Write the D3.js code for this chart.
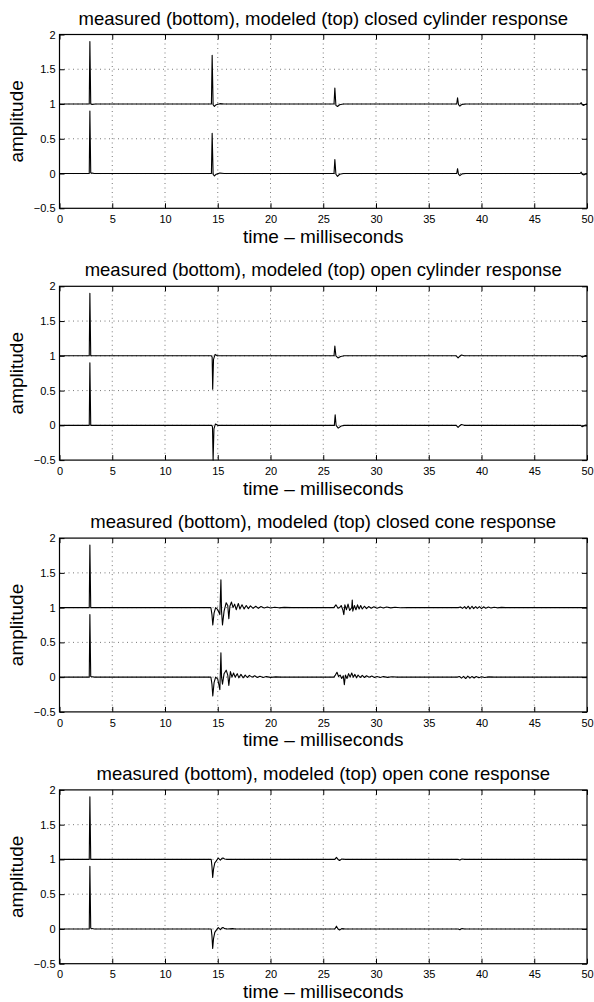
<!DOCTYPE html>
<html>
<head>
<meta charset="utf-8">
<script src="https://cdn.jsdelivr.net/npm/d3@7"></script>
<style>
  body { margin: 0; background: #fff; }
  svg { display: block; font-family: "Liberation Sans", Arial, Helvetica, sans-serif; }
</style>
</head>
<body>
<div id="chart"></div>
<script>
// axis ticks and panel titles
var timeTicks = [0, 5, 10, 15, 20, 25, 30, 35, 40, 45, 50];
var ampTicks = [-0.5, 0, 0.5, 1, 1.5, 2];
var titles = [
    "measured (bottom), modeled (top) closed cylinder response",
    "measured (bottom), modeled (top) open cylinder response",
    "measured (bottom), modeled (top) closed cone response",
    "measured (bottom), modeled (top) open cone response"
];

// traces: [time ms, amplitude]
var closedCylModel = [[0,1],[2.82,1],[2.88,1.9],[2.96,1],[3.1,0.995],[3.4,1],[14.4,1],[14.47,1.7],[14.56,0.99],[14.68,0.965],[14.85,0.99],[15.2,1.005],[15.6,1],
    [26.02,1],[26.1,1.23],[26.2,0.98],[26.35,0.965],[26.55,0.99],[26.9,1],[37.65,1],[37.73,1.09],[37.82,0.99],[37.95,0.97],[38.15,0.995],[38.5,1],
    [49.35,1],[49.45,1.02],[49.55,0.99],[49.7,0.98],[49.85,0.995],[50,1]];
var closedCylMeas = [[0,0],[2.82,0],[2.88,0.9],[2.96,0.01],[3.3,0],[14.4,0],[14.47,0.58],[14.56,-0.01],[14.68,-0.035],[14.85,-0.01],[15.2,0.008],[15.6,0],
    [26.02,0],[26.1,0.2],[26.2,-0.01],[26.35,-0.04],[26.55,-0.01],[26.9,0],[37.65,0],[37.73,0.07],[37.82,-0.01],[37.95,-0.03],[38.15,-0.005],[38.5,0],
    [49.35,0],[49.45,0.02],[49.55,-0.01],[49.7,-0.02],[49.85,-0.005],[50,0]];

var openCylModel = [[0,1],[2.82,1],[2.88,1.9],[2.96,1],[3.3,1],[14.4,1],[14.47,0.98],[14.52,0.52],[14.6,0.95],[14.75,1.02],[14.95,1],
    [26.02,1],[26.1,1.14],[26.2,1],[26.4,0.97],[26.65,0.99],[27,1],[37.6,1],[37.78,0.97],[37.9,0.99],[38.1,1.012],[38.35,1],
    [49.4,1],[49.55,0.98],[49.7,0.995],[49.85,1.005],[50,1]];
var openCylMeas = [[0,0],[2.82,0],[2.88,0.9],[2.96,0],[3.3,0],[14.42,0],[14.5,-0.02],[14.56,-0.5],[14.64,-0.05],[14.78,0.02],[15,0],
    [26.05,0],[26.13,0.15],[26.22,0],[26.42,-0.04],[26.7,-0.01],[27,0],[37.6,0],[37.78,-0.03],[37.9,-0.01],[38.1,0.012],[38.35,0],
    [49.4,0],[49.55,-0.02],[49.7,-0.005],[49.85,0.005],[50,0]];

var closedConeModel = [[0,1],[2.82,1],[2.88,1.9],[2.96,1],[3.3,1],[14.35,1],[14.45,0.9],[14.53,0.75],[14.65,0.92],[14.8,1],[15,0.97],[15.2,0.9],
    [15.3,1.4],[15.36,0.95],[15.45,0.75],[15.6,0.95],[15.8,1.07],[15.95,1.03],[16.05,0.84],[16.15,1.02],[16.3,1.08],[16.45,1],[16.6,1.05],
    [16.75,0.97],[16.95,1.06],[17.1,0.98],[17.3,1.04],[17.5,0.98],[17.7,1.03],[17.9,0.985],[18.1,1.025],[18.35,0.99],[18.6,1.02],[18.85,0.99],
    [19.1,1.015],[19.4,0.995],[19.7,1.01],[20,0.995],[20.4,1.006],[20.8,0.997],[21.3,1.003],[22,1],
    [26,1],[26.2,1.04],[26.4,0.99],[26.55,1],[26.7,1.03],[26.85,0.97],[26.95,0.9],[27.05,1.04],[27.2,0.97],[27.35,1.05],[27.5,0.96],[27.7,1],
    [27.75,1.11],[27.8,0.95],[27.95,1.03],[28.1,0.97],[28.25,1.04],[28.4,0.98],[28.55,1.03],[28.7,0.98],[28.9,1.02],[29.1,0.985],[29.3,1.015],
    [29.55,0.99],[29.8,1.012],[30.1,0.992],[30.4,1.01],[30.7,0.995],[31,1.008],[31.4,0.996],[31.8,1.005],[32.3,0.998],[33,1],
    [37.8,1],[38,1.01],[38.2,0.99],[38.4,1.015],[38.55,0.985],[38.75,1.02],[38.9,0.98],[39.1,1.02],[39.25,0.985],[39.45,1.015],[39.6,0.99],
    [39.8,1.015],[40,0.985],[40.2,1.012],[40.4,0.992],[40.65,1.008],[40.9,0.994],[41.2,1.006],[41.5,0.997],[41.9,1.003],[42.3,1],[50,1]];
var closedConeMeas = [[0,0],[2.82,0],[2.88,0.9],[2.96,0.01],[3.3,0],[14.35,0],[14.45,-0.1],[14.53,-0.27],[14.65,-0.08],[14.8,0],[15,-0.03],
    [15.2,-0.18],[15.3,0.35],[15.36,0],[15.45,-0.1],[15.6,0.05],[15.8,0.1],[15.95,0.03],[16.05,-0.12],[16.2,0.08],[16.35,0],[16.5,0.06],
    [16.65,0],[16.85,0.05],[17,-0.01],[17.2,0.04],[17.4,-0.01],[17.6,0.03],[17.8,-0.005],[18,0.025],[18.25,0],[18.5,0.02],[18.75,-0.005],
    [19,0.012],[19.3,-0.005],[19.6,0.008],[20,-0.003],[20.5,0.004],[21,0],
    [26,0],[26.15,0.03],[26.3,0.07],[26.45,0.01],[26.6,0.03],[26.75,-0.02],[26.9,0.02],[27,-0.11],[27.1,0.03],[27.25,-0.02],[27.4,0.05],
    [27.55,0],[27.7,0.06],[27.85,0],[28,0.04],[28.15,-0.01],[28.3,0.03],[28.5,-0.005],[28.7,0.025],[28.9,-0.005],[29.1,0.02],[29.35,0],
    [29.6,0.015],[29.85,-0.005],[30.1,0.01],[30.4,-0.004],[30.7,0.008],[31.1,-0.003],[31.5,0.005],[32,0],
    [37.7,0],[37.9,0.01],[38.1,-0.015],[38.3,0.012],[38.5,-0.02],[38.7,0.015],[38.9,-0.015],[39.1,0.01],[39.3,-0.012],[39.5,0.01],
    [39.75,-0.008],[40,0.006],[40.3,-0.005],[40.7,0.004],[41.2,0],[50,0]];

var openConeModel = [[0,1],[2.82,1],[2.88,1.9],[2.96,1],[3.3,1],[14.38,1],[14.45,0.9],[14.52,0.74],[14.6,0.86],[14.72,0.95],[14.85,0.975],
    [14.95,1],[15.05,1.02],[15.15,1.005],[15.25,0.99],[15.4,1.015],[15.5,1.02],[15.65,1.005],[15.9,1],
    [26.1,1],[26.25,1.03],[26.4,1],[26.55,0.985],[26.75,1.005],[27.1,1],[37.8,1],[37.95,0.99],[38.15,1.005],[38.4,1],[50,1]];
var openConeMeas = [[0,0],[2.82,0],[2.88,0.9],[2.96,0.01],[3.3,0],[14.38,0],[14.45,-0.1],[14.52,-0.28],[14.6,-0.14],[14.72,-0.05],[14.85,-0.02],
    [14.95,0],[15.05,0.02],[15.15,0.005],[15.25,-0.01],[15.4,0.015],[15.5,0.02],[15.65,0.005],[15.9,0],[16.4,0.005],[16.7,0],
    [26.1,0],[26.25,0.04],[26.4,0],[26.55,-0.015],[26.75,0.005],[27.1,0],[37.8,0],[37.95,-0.01],[38.15,0.005],[38.4,0],[50,0]];

var panels = [
    [closedCylModel, closedCylMeas],
    [openCylModel, openCylMeas],
    [closedConeModel, closedConeMeas],
    [openConeModel, openConeMeas]
];

var width = 594, height = 1002;
var left = 59.5, plotW = 527.5, top0 = 34.5, plotH = 173.8, step = 251.8;

var svg = d3.select("#chart").append("svg")
    .attr("width", width)
    .attr("height", height);

var x = d3.scaleLinear([0, 50], [0, plotW]);
var y = d3.scaleLinear([-0.5, 2], [plotH, 0]);

var line = d3.line()
    .x(d => x(d[0]))
    .y(d => y(d[1]));

panels.forEach(function(traces, i) {
    var g = svg.append("g")
        .attr("transform", "translate(" + left + "," + (top0 + i * step) + ")");

    // dotted grid
    g.append("g")
        .selectAll("line")
        .data(timeTicks.filter(d => d > 0 && d < 50))
        .join("line")
        .attr("x1", d => x(d)).attr("x2", d => x(d))
        .attr("y1", 0).attr("y2", plotH)
        .attr("stroke", "#555")
        .attr("stroke-width", 0.8)
        .attr("stroke-dasharray", "1,3.5");
    g.append("g")
        .selectAll("line")
        .data(ampTicks.filter(d => d > -0.5 && d < 2))
        .join("line")
        .attr("x1", 0).attr("x2", plotW)
        .attr("y1", d => y(d)).attr("y2", d => y(d))
        .attr("stroke", "#555")
        .attr("stroke-width", 0.8)
        .attr("stroke-dasharray", "1,3.5");

    // traces
    g.selectAll("path.trace")
        .data(traces)
        .join("path")
        .attr("class", "trace")
        .attr("fill", "none")
        .attr("stroke", "#000")
        .attr("stroke-width", 1.1)
        .attr("stroke-linejoin", "round")
        .attr("d", line);

    // axes with inward ticks
    g.append("g")
        .attr("transform", "translate(0," + plotH + ")")
        .call(d3.axisBottom(x).tickValues(timeTicks).tickSize(-5).tickPadding(7).tickFormat(d3.format("")));
    g.append("g")
        .call(d3.axisLeft(y).tickValues(ampTicks).tickSize(-5).tickPadding(4).tickFormat(d3.format("")));
    g.append("g")
        .call(d3.axisTop(x).tickValues(timeTicks).tickSize(-5).tickFormat(""));
    g.append("g")
        .attr("transform", "translate(" + plotW + ",0)")
        .call(d3.axisRight(y).tickValues(ampTicks).tickSize(-5).tickFormat(""));

    g.selectAll(".domain").remove();
    g.selectAll(".tick line").attr("stroke", "#000").attr("stroke-width", 1);
    g.selectAll(".tick text")
        .attr("fill", "#000")
        .style("font-size", "11px")
        .style("font-family", "'Liberation Sans', Arial, sans-serif");

    g.append("rect")
        .attr("width", plotW)
        .attr("height", plotH)
        .attr("fill", "none")
        .attr("stroke", "#000")
        .attr("stroke-width", 1.2);

    // labels
    g.append("text")
        .attr("x", plotW / 2)
        .attr("y", -10)
        .attr("text-anchor", "middle")
        .style("font-size", "18.5px")
        .text(titles[i]);

    g.append("text")
        .attr("x", plotW / 2)
        .attr("y", plotH + 34.5)
        .attr("text-anchor", "middle")
        .style("font-size", "19px")
        .text("time \u2013 milliseconds");

    g.append("text")
        .attr("transform", "translate(" + (23 - left) + "," + (plotH / 2) + ") rotate(-90)")
        .attr("text-anchor", "middle")
        .style("font-size", "19px")
        .text("amplitude");
});
</script>
</body>
</html>
